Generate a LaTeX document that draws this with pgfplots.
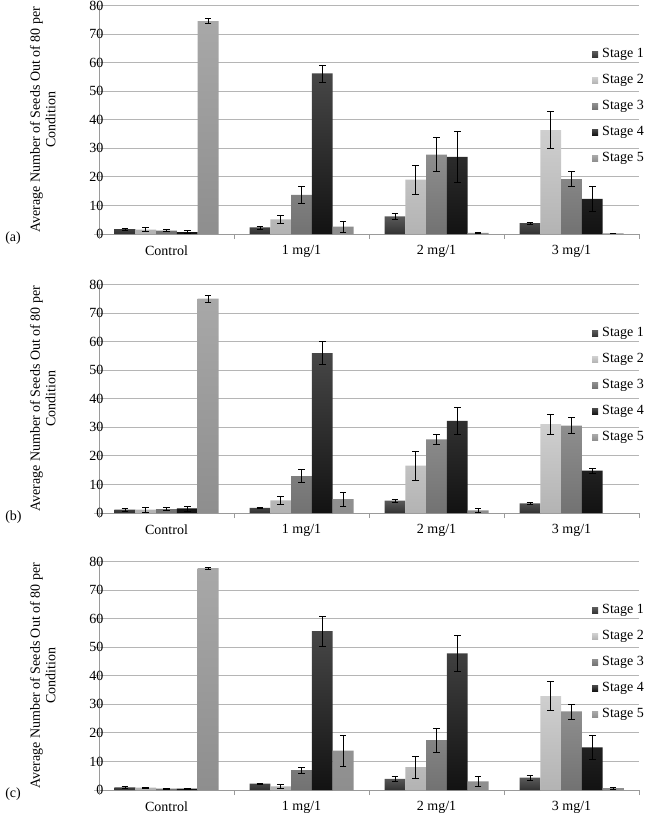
\documentclass[border=0pt]{standalone}
\usepackage{fontspec}
\setmainfont{Liberation Serif}
\usepackage{pgfplots}
\pgfplotsset{compat=1.18}

\definecolor{s1t}{HTML}{5A5A5A}\definecolor{s1b}{HTML}{333333}
\definecolor{s2t}{HTML}{CFCFCF}\definecolor{s2b}{HTML}{B3B3B3}
\definecolor{s3t}{HTML}{8E8E8E}\definecolor{s3b}{HTML}{727272}
\definecolor{s4t}{HTML}{474747}\definecolor{s4b}{HTML}{121212}
\definecolor{s5t}{HTML}{A8A8A8}\definecolor{s5b}{HTML}{8E8E8E}
\definecolor{gridc}{HTML}{B5B5B5}
\definecolor{axc}{HTML}{9A9A9A}

\newcommand{\fs}{\fontsize{14}{16.8}\selectfont}

\pgfplotsset{
  panel/.style={
    scale only axis, width=540pt, height=228.5pt,
    xmin=-0.5, xmax=3.5, ymin=0, ymax=80,
    ybar=0pt, bar width=20.8pt,
    /pgf/number format/assume math mode=true,
    xtick={0,1,2,3}, xticklabels={Control,1 mg/1,2 mg/1,3 mg/1},
    ytick={0,10,...,80},
    tick align=outside,
    xtick style={draw=none},
    ytick style={draw=gridc, line width=0.8pt},
    major tick length=5pt,
    extra x ticks={-0.5,0.5,1.5,2.5,3.5}, extra x tick labels={},
    extra x tick style={xtick style={draw=axc, line width=0.8pt}, major tick length=5pt, grid=none},
    ymajorgrids, grid style={gridc, line width=0.8pt},
    axis x line*=bottom, axis y line*=left,
    y axis line style={draw=axc, line width=0.8pt},
    x axis line style={draw=axc, line width=0.8pt},
    tick label style={font=\fs},
    yticklabel style={xshift=13pt},
    xticklabel style={yshift=-3pt},
    ylabel={Average Number of Seeds Out of 80 per\\Condition},
    ylabel style={font=\fontsize{14}{15.5}\selectfont, align=center, at={(axis description cs:-0.104,0.5)}, anchor=center},
    clip=false,
    legend cell align=left,
    legend image code/.code={\path[##1,draw=none] (0pt,-3pt) rectangle (6pt,3pt);},
    legend style={at={(rel axis cs:0.913,0.815)}, anchor=north west, draw=none, fill=none,
      font=\fs, row sep=13pt, inner sep=0pt,
      nodes={inner sep=0pt, text height=10pt, text depth=3pt},
      /tikz/every odd column/.style={column sep=4pt}},
  },
  eb/.style={
    error bars/y dir=both, error bars/y explicit,
    error bars/error bar style={black, line width=0.7pt},
    error bars/error mark options={rotate=90, mark size=3.3pt, black, line width=0.7pt},
  },
  st1/.style={eb, draw=none, top color=s1t, bottom color=s1b},
  st2/.style={eb, draw=none, top color=s2t, bottom color=s2b},
  st3/.style={eb, draw=none, top color=s3t, bottom color=s3b},
  st4/.style={eb, draw=none, top color=s4t, bottom color=s4b},
  st5/.style={eb, draw=none, top color=s5t, bottom color=s5b},
}

\begin{document}
\begin{tikzpicture}
\useasboundingbox (0pt,0pt) rectangle (647pt,-816pt);

% ---------- (a)
\begin{axis}[panel, at={(99pt,-234pt)}, anchor=south west]
\addplot[st1] coordinates {(0,1.7) +- (0,0.3) (1,2.3) +- (0,0.5) (2,6.2) +- (0,1.2) (3,3.8) +- (0,0.4)};
\addplot[st2] coordinates {(0,1.5) +- (0,0.7) (1,5.1) +- (0,1.5) (2,19.0) +- (0,5.0) (3,36.4) +- (0,6.5)};
\addplot[st3] coordinates {(0,1.2) +- (0,0.4) (1,13.7) +- (0,3.0) (2,27.8) +- (0,5.9) (3,19.2) +- (0,2.6)};
\addplot[st4] coordinates {(0,0.7) +- (0,0.6) (1,56.2) +- (0,3.0) (2,27.0) +- (0,8.8) (3,12.3) +- (0,4.4)};
\addplot[st5] coordinates {(0,74.5) +- (0,0.9) (1,2.6) +- (0,2.0) (2,0.4) +- (0,0.3) (3,0.2) +- (0,0.1)};
\legend{Stage 1,Stage 2,Stage 3,Stage 4,Stage 5}
\node[anchor=west, font=\fs] at (axis description cs:-0.180,-0.017) {(a)};
\end{axis}

% ---------- (b)
\begin{axis}[panel, at={(99pt,-513pt)}, anchor=south west]
\addplot[st1] coordinates {(0,1.2) +- (0,0.6) (1,1.8) +- (0,0.3) (2,4.3) +- (0,0.6) (3,3.4) +- (0,0.5)};
\addplot[st2] coordinates {(0,1.2) +- (0,0.8) (1,4.4) +- (0,1.4) (2,16.6) +- (0,5.0) (3,31.1) +- (0,3.4)};
\addplot[st3] coordinates {(0,1.4) +- (0,0.6) (1,12.9) +- (0,2.3) (2,25.8) +- (0,1.8) (3,30.6) +- (0,2.8)};
\addplot[st4] coordinates {(0,1.6) +- (0,0.9) (1,56.0) +- (0,4.0) (2,32.3) +- (0,4.7) (3,14.8) +- (0,0.8)};
\addplot[st5] coordinates {(0,75.1) +- (0,1.2) (1,4.9) +- (0,2.5) (2,0.9) +- (0,0.7)};
\legend{Stage 1,Stage 2,Stage 3,Stage 4,Stage 5}
\node[anchor=west, font=\fs] at (axis description cs:-0.180,-0.017) {(b)};
\end{axis}

% ---------- (c)
\begin{axis}[panel, at={(99pt,-790pt)}, anchor=south west]
\addplot[st1] coordinates {(0,0.9) +- (0,0.3) (1,2.2) +- (0,0.2) (2,3.9) +- (0,1.0) (3,4.3) +- (0,0.8)};
\addplot[st2] coordinates {(0,0.8) +- (0,0.3) (1,1.3) +- (0,0.7) (2,8.0) +- (0,3.9) (3,32.9) +- (0,5.1)};
\addplot[st3] coordinates {(0,0.5) +- (0,0.2) (1,7.0) +- (0,1.1) (2,17.5) +- (0,4.2) (3,27.5) +- (0,2.6)};
\addplot[st4] coordinates {(0,0.5) +- (0,0.2) (1,55.6) +- (0,5.2) (2,47.8) +- (0,6.3) (3,14.9) +- (0,4.1)};
\addplot[st5] coordinates {(0,77.7) +- (0,0.4) (1,13.8) +- (0,5.5) (2,3.0) +- (0,1.8) (3,0.7) +- (0,0.35)};
\legend{Stage 1,Stage 2,Stage 3,Stage 4,Stage 5}
\node[anchor=west, font=\fs] at (axis description cs:-0.180,-0.017) {(c)};
\end{axis}
\end{tikzpicture}
\end{document}
